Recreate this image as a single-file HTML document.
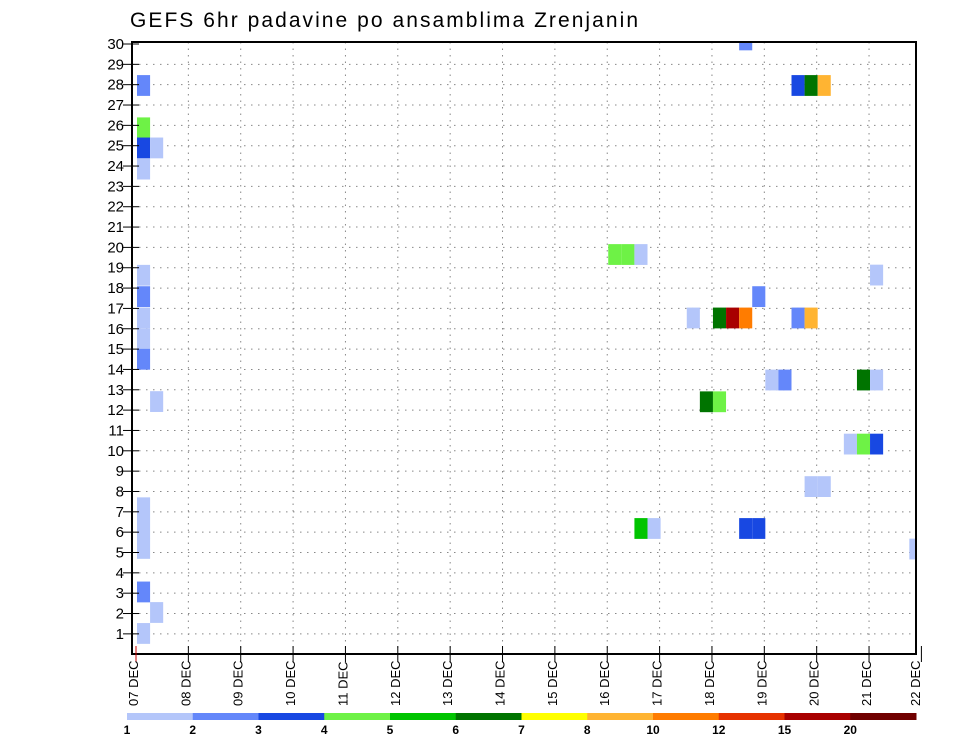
<!DOCTYPE html>
<html><head><meta charset="utf-8"><style>
html,body{margin:0;padding:0;background:#fff;}
svg{display:block;font-family:"Liberation Sans",sans-serif;}
</style></head><body>
<svg id="chart" width="960" height="742" viewBox="0 0 960 742" xmlns="http://www.w3.org/2000/svg">
<text x="130" y="27" font-size="21" fill="#000" textLength="508" lengthAdjust="spacing">GEFS 6hr padavine po ansamblima Zrenjanin</text>
<g id="grid"></g><g id="cells"></g><g id="axes"></g><g id="cbar"></g>
</svg>
<script>
const dayLabels=["07","08","09","10","11","12","13","14","15","16","17","18","19","20","21","22"];
const memberTicks=[1,2,3,4,5,6,7,8,9,10,11,12,13,14,15,16,17,18,19,20,21,22,23,24,25,26,27,28,29,30];
const cellSteps=[0,0,0,1,0,0,0,0,0,0,0,1,0,1,0,0,0,0, 46,50,51,52, 36,37,38,56,47,42,44,45,46,50,51,48,49,55,56,43,44,54,55,56,51,52,38,39,46,47,59];
const cellMembers=[27.96,25.88,24.89,24.89,23.85,18.63,17.58,16.53,15.5,14.5,7.2,12.42,6.2,2.05,5.2,3.06,1.02,0,
 30.2,27.96,27.96,27.96, 19.65,19.65,19.65,18.64,17.58,16.53,16.53,16.53,16.53,16.53,16.53,13.48,13.48,13.48,13.48,12.41,12.41,10.33,10.33,10.33,8.24,8.24,6.18,6.18,6.18,6.18,5.17];
const cellLevels=[2,4,3,1,1,1,2,1,1,2,1,1,1,1,1,2,1,0,
 2,3,6,8, 4,4,1,1,2,1,6,11,9,2,8,1,2,6,1,6,4,1,4,3,1,1,5,1,3,3,1];
const levelLabels=["1","2","3","4","5","6","7","8","10","12","15","20"];
const levelColors=["#b4c6fa","#6487fa","#1848e2","#6ef246","#00c400","#007400","#ffff00","#ffb432","#ff7c00","#e63200","#a80000","#700000"];

const NS="http://www.w3.org/2000/svg";
const L=132,R=916,T=42,B=654;
const x0=136,dayW=52.36;
function xDay(d){return x0+d*dayW;}
function xStep(t){return x0+1+t*dayW/4;}
function yRow(r){return 44+(30-r)*20.34;}
function mk(tag,attrs,parent){const e=document.createElementNS(NS,tag);for(const k in attrs)e.setAttribute(k,attrs[k]);parent.appendChild(e);return e;}
const grid=document.getElementById('grid'),cells=document.getElementById('cells'),axes=document.getElementById('axes'),cbar=document.getElementById('cbar');

for(let d=1;d<dayLabels.length-1;d++){
  const g=mk('line',{x1:xDay(d),x2:xDay(d),y1:T,y2:B,stroke:'#888','stroke-width':1,'stroke-dasharray':'1.5,5'},grid);
  
  
}
memberTicks.forEach(r=>{if(r>=30)return;
  const g=mk('line',{x1:L,x2:R,y1:yRow(r),y2:yRow(r),stroke:'#888','stroke-width':1,'stroke-dasharray':'1.5,5.5'},grid);
  
  
});
const cw=dayW/4,ch=20.8;
for(let i=0;i<cellSteps.length;i++){
  const lv=cellLevels[i];if(lv<1)continue;
  let x=xStep(cellSteps[i]),y=yRow(cellMembers[i])-ch/2,w=cw,h=ch;
  if(x+w>R)w=R-x; if(y<T){h-=T-y;y=T;}
  const c=mk('rect',{x:x,y:y,width:w,height:h,fill:levelColors[lv-1]},cells);
  
  
}
const fr=mk('rect',{x:L,y:T,width:R-L,height:B-T,fill:'none',stroke:'#000','stroke-width':2},axes);


memberTicks.forEach(r=>{
  const tk=mk('line',{x1:L-9,x2:L+7,y1:yRow(r),y2:yRow(r),stroke:'#000','stroke-width':1},axes);
  
  
  const t=mk('text',{x:124,y:yRow(r)+5,'font-size':15,'text-anchor':'end',fill:'#000'},axes);
  t.textContent=r;
  
  
});
dayLabels.forEach((d,i)=>{
  const x=xDay(i);
  const tk=mk('line',{x1:x,x2:x,y1:B-8,y2:B+8,stroke:i==0?'#c00':'#000','stroke-width':1},axes);
  
  
  const t=mk('text',{x:0,y:0,'font-size':13,fill:'#000',transform:`translate(${Math.min(x+2,920)},${706}) rotate(-90)`},axes);
  t.textContent=d+" DEC";
  
  
});
const cbL=127,cbR=916,segW=(cbR-cbL)/levelColors.length;
levelColors.forEach((c,i)=>{
  const s=mk('rect',{x:cbL+i*segW,y:713,width:segW+0.5,height:7,fill:c},cbar);
  
  
});
levelLabels.forEach((l,i)=>{
  const t=mk('text',{x:cbL+i*segW,y:734,'font-size':12,'font-weight':'bold','text-anchor':'middle',fill:'#000'},cbar);
  t.textContent=l;
  
  
});
</script>
</body></html>
